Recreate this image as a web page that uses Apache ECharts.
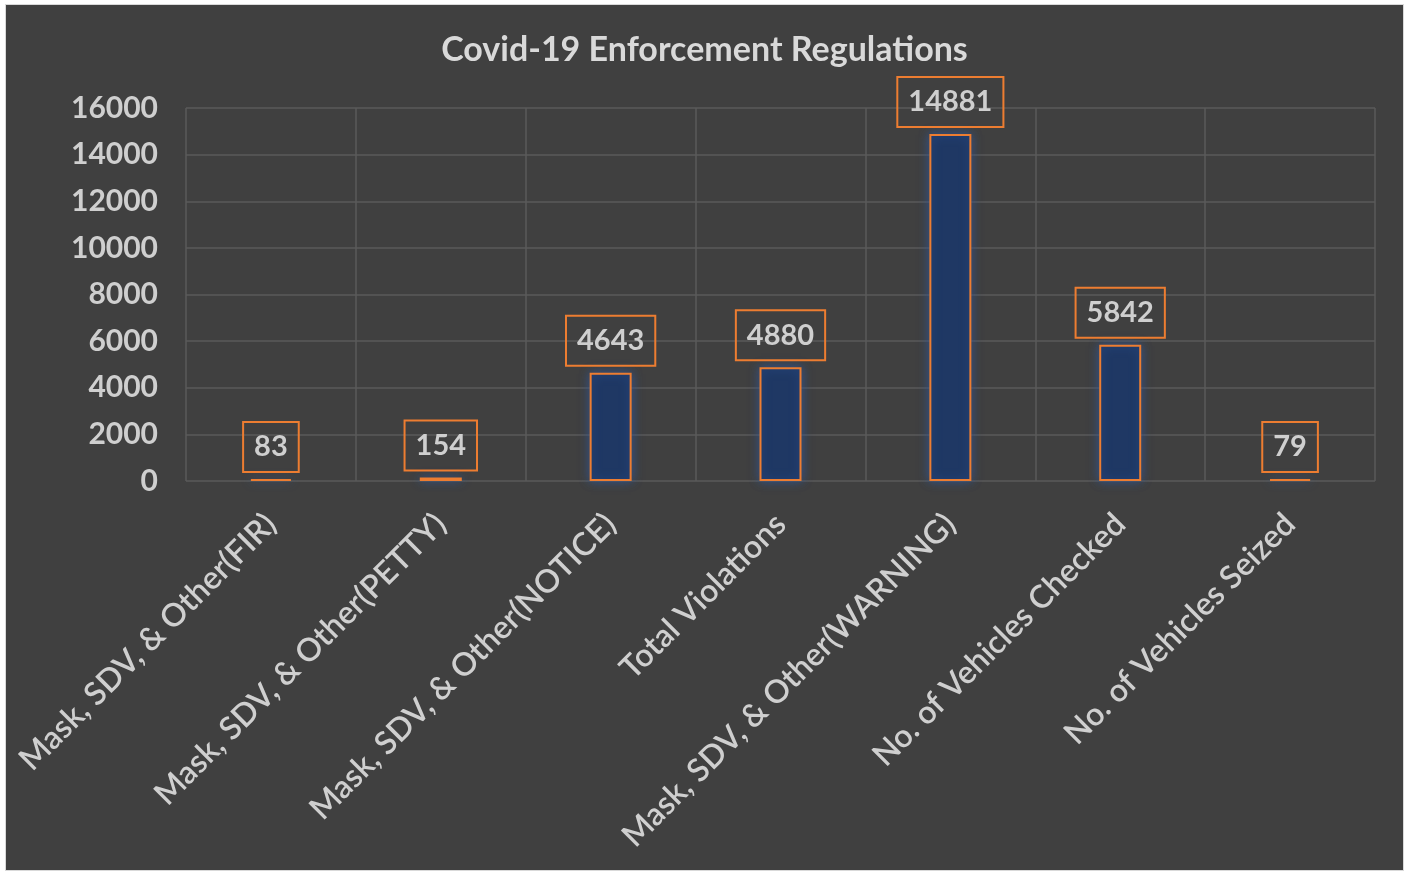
<!DOCTYPE html>
<html>
<head>
<meta charset="utf-8">
<script src="https://cdn.jsdelivr.net/npm/echarts@6/dist/echarts.min.js"></script>
<style>
html,body{margin:0;padding:0;background:#ffffff;}
#frame{position:absolute;left:5px;top:4px;width:1397px;height:865px;background:#404040;border:1px solid #d9d9d9;}
#chart{width:1397px;height:865px;}
</style>
</head>
<body>
<div id="frame"><div id="chart"></div></div>
<script>
const titleText = 'Covid-19 Enforcement Regulations';
const categories = [
  'Mask, SDV, & Other(FIR)',
  'Mask, SDV, & Other(PETTY)',
  'Mask, SDV, & Other(NOTICE)',
  'Total Violations',
  'Mask, SDV, & Other(WARNING)',
  'No. of Vehicles Checked',
  'No. of Vehicles Seized'
];
const values = [83, 154, 4643, 4880, 14881, 5842, 79];
const yMin = 0, yMax = 16000, yStep = 2000;

const chart = echarts.init(document.getElementById('chart'));
chart.setOption({
  backgroundColor: '#404040',
  title: {
    text: titleText, left: 'center', top: 23,
    textStyle: {color: '#d9d9d9', fontFamily: 'Lato', fontWeight: 'bold', fontSize: 34}
  },
  grid: {left: 180, right: 28, top: 103, bottom: 389, containLabel: false},
  xAxis: {
    type: 'category', data: categories,
    axisLine: {show: false}, axisTick: {show: false},
    splitLine: {show: true, lineStyle: {color: '#5a5a5a', width: 1.5}},
    axisLabel: {rotate: 45, color: '#cfcfcf', fontFamily: 'Lato', fontWeight: 600, fontSize: 32, margin: 38, interval: 0}
  },
  yAxis: {
    type: 'value', min: yMin, max: yMax, interval: yStep,
    axisLine: {show: false}, axisTick: {show: false},
    splitLine: {lineStyle: {color: '#5a5a5a', width: 1.5}},
    axisLabel: {color: '#cfcfcf', fontFamily: 'Lato', fontWeight: 'bold', fontSize: 30, margin: 28,
      formatter: function (v) { return String(v); }}
  },
  series: [{
    type: 'bar', data: values, barWidth: 42,
    itemStyle: {color: '#1f3864', borderColor: '#ed7d31', borderWidth: 2, shadowBlur: 10, shadowColor: 'rgba(47,85,151,0.9)'},
    label: {
      show: true, position: 'top', distance: 7,
      color: '#cfcfcf', fontFamily: 'Lato', fontWeight: 'bold', fontSize: 29, lineHeight: 30,
      borderColor: '#ed7d31', borderWidth: 2, padding: [10, 11]
    }
  }]
});
</script>
</body>
</html>
